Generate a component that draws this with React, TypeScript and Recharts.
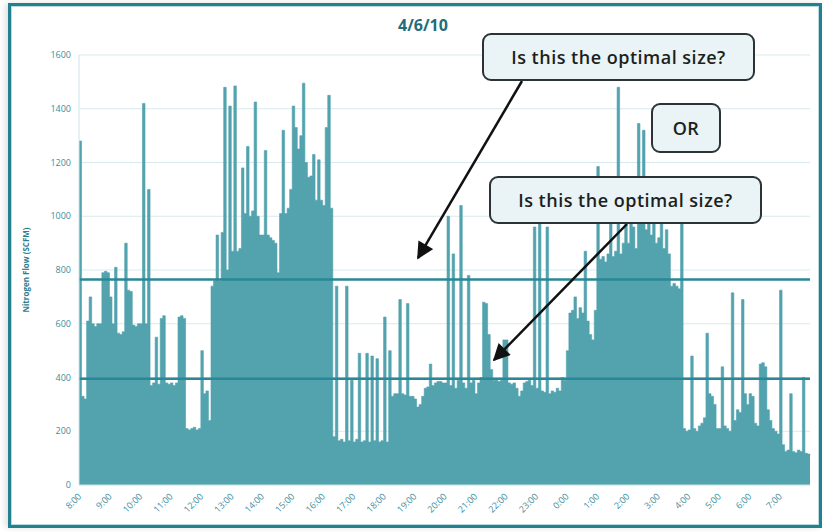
import React from 'react';
import {
  Area,
  AreaChart,
  CartesianGrid,
  ReferenceLine,
  XAxis,
  YAxis,
} from 'recharts';

// 5-minute samples of nitrogen flow (SCFM), one list per hour, starting at 8:00
const FLOW_08 = [1280, 330, 320, 610, 700, 600, 590, 600, 600, 790, 795, 790];
const FLOW_09 = [700, 600, 810, 565, 560, 570, 900, 725, 720, 595, 590, 600];
const FLOW_10 = [600, 1420, 600, 1100, 370, 380, 550, 375, 620, 630, 380, 375];
const FLOW_11 = [380, 370, 380, 625, 630, 620, 210, 205, 210, 215, 205, 210];
const FLOW_12 = [500, 340, 350, 240, 740, 760, 930, 760, 940, 1480, 800, 1410];
const FLOW_13 = [870, 1485, 870, 880, 1180, 1010, 1260, 1000, 1020, 1425, 1000, 930];
const FLOW_14 = [930, 1245, 930, 920, 910, 900, 790, 1010, 1320, 1010, 1030, 1100];
const FLOW_15 = [1410, 1330, 1250, 1300, 1495, 1200, 1145, 1150, 1230, 1060, 1210, 1060];
const FLOW_16 = [1040, 1330, 1450, 1030, 180, 740, 165, 170, 160, 740, 165, 390];
const FLOW_17 = [160, 170, 490, 160, 165, 490, 160, 480, 165, 470, 160, 165];
const FLOW_18 = [625, 160, 500, 330, 340, 340, 690, 340, 335, 675, 330, 330];
const FLOW_19 = [320, 290, 300, 330, 360, 365, 450, 370, 380, 385, 385, 380];
const FLOW_20 = [380, 1000, 370, 860, 360, 390, 1040, 380, 360, 780, 380, 390];
const FLOW_21 = [340, 380, 400, 680, 675, 560, 430, 390, 395, 385, 390, 540];
const FLOW_22 = [540, 380, 375, 380, 360, 330, 350, 380, 385, 390, 370, 960];
const FLOW_23 = [360, 975, 350, 345, 960, 340, 350, 345, 360, 350, 400, 390];
const FLOW_00 = [500, 640, 650, 700, 620, 660, 640, 870, 610, 560, 540, 650];
const FLOW_01 = [1185, 840, 850, 830, 860, 1000, 850, 870, 1480, 860, 900, 980];
const FLOW_02 = [900, 1000, 960, 880, 1345, 1000, 1320, 950, 1000, 930, 980, 900];
const FLOW_03 = [920, 1000, 880, 950, 860, 740, 750, 740, 730, 975, 210, 200];
const FLOW_04 = [205, 480, 210, 200, 220, 230, 250, 565, 340, 330, 300, 210];
const FLOW_05 = [210, 440, 220, 210, 200, 715, 240, 280, 270, 690, 340, 300];
const FLOW_06 = [340, 330, 230, 220, 450, 455, 440, 280, 240, 210, 200, 190];
const FLOW_07 = [725, 150, 125, 130, 340, 125, 120, 130, 125, 400, 118, 115];
const FLOW_CLOSE = [110];

const HOUR_LABELS = [
  '8:00', '9:00', '10:00', '11:00', '12:00', '13:00', '14:00', '15:00',
  '16:00', '17:00', '18:00', '19:00', '20:00', '21:00', '22:00', '23:00',
  '0:00', '1:00', '2:00', '3:00', '4:00', '5:00', '6:00', '7:00',
];
const Y_TICKS = [0, 200, 400, 600, 800, 1000, 1200, 1400, 1600];
const SIZE_LEVELS = [765, 395];

const SAMPLE_MINUTES = 5;

const flowSeries = [
  FLOW_08, FLOW_09, FLOW_10, FLOW_11, FLOW_12, FLOW_13, FLOW_14, FLOW_15,
  FLOW_16, FLOW_17, FLOW_18, FLOW_19, FLOW_20, FLOW_21, FLOW_22, FLOW_23,
  FLOW_00, FLOW_01, FLOW_02, FLOW_03, FLOW_04, FLOW_05, FLOW_06, FLOW_07,
  FLOW_CLOSE,
].flat();

const chartData = flowSeries.map((flow, i) => ({ t: i * SAMPLE_MINUTES, flow }));

const TEAL = '#52a3ae';
const TEAL_DARK = '#2a8795';
const TICK_COLOR = '#3d8e9d';

function RotatedTick(props: any) {
  const { x, y, payload } = props;
  return (
    <text
      x={x + 3}
      y={y + 4}
      transform={`rotate(-45, ${x + 3}, ${y + 4})`}
      textAnchor='end'
      fontSize={9}
      fill={TICK_COLOR}
      fontFamily='Open Sans, sans-serif'>
      {HOUR_LABELS[Math.round(payload.value / 60)]}
    </text>
  );
}

const calloutStyle: React.CSSProperties = {
  position: 'absolute',
  boxSizing: 'border-box',
  background: '#eaf3f5',
  border: '2px solid #2b3336',
  borderRadius: 9,
  display: 'flex',
  alignItems: 'center',
  justifyContent: 'center',
  fontFamily: 'Open Sans, sans-serif',
  fontWeight: 600,
  fontSize: 18,
  letterSpacing: 0.5,
  color: '#1c1f21',
};

export default function App() {
  return (
    <div style={{ position: 'relative', width: 825, height: 532, background: '#fff' }}>
      <style>{'body{margin:0}'}</style>
      {/* cadre */}
      <div
        style={{
          position: 'absolute',
          left: 8,
          top: 3,
          width: 814,
          height: 525,
          boxSizing: 'border-box',
          border: '3px solid #23808e',
          boxShadow: 'inset 0 0 0 1px #b9d9de, -3px 0 6px rgba(0,0,0,0.12)',
        }}
      />
      <div
        style={{
          position: 'absolute',
          left: 0,
          top: 14,
          width: 846,
          textAlign: 'center',
          fontFamily: 'Open Sans, sans-serif',
          fontWeight: 700,
          fontSize: 16,
          color: '#1f6c7b',
        }}>
        4/6/10
      </div>
      <div style={{ position: 'absolute', left: 0, top: 0 }}>
        <AreaChart
          width={825}
          height={532}
          data={chartData}
          margin={{ top: 55, right: 15, left: 0, bottom: 7 }}>
          <CartesianGrid vertical={false} stroke='#d8eaed' />
          <XAxis
            dataKey='t'
            type='number'
            domain={[0, 1440]}
            ticks={HOUR_LABELS.map((_, i) => i * 60)}
            interval={0}
            height={40}
            tick={<RotatedTick />}
            tickLine={false}
            axisLine={{ stroke: '#cfe4e8' }}
          />
          <YAxis
            width={79}
            domain={[0, 1600]}
            ticks={Y_TICKS}
            interval={0}
            tickLine={false}
            axisLine={{ stroke: '#cfe4e8' }}
            tick={{ fontSize: 9, fill: TICK_COLOR, fontFamily: 'Open Sans, sans-serif' }}
            label={{
              value: 'Nitrogen Flow (SCFM)',
              angle: -90,
              position: 'insideLeft',
              offset: 26,
              style: {
                fontSize: 8,
                fontWeight: 700,
                fill: '#2d7f90',
                fontFamily: 'Open Sans, sans-serif',
                textAnchor: 'middle',
              },
            }}
          />
          <Area
            type='stepAfter'
            dataKey='flow'
            stroke={TEAL}
            strokeWidth={0.6}
            fill={TEAL}
            fillOpacity={1}
            isAnimationActive={false}
          />
          {SIZE_LEVELS.map((level) => (
            <ReferenceLine key={level} y={level} stroke={TEAL_DARK} strokeWidth={2.5} />
          ))}
        </AreaChart>
      </div>
      {/* flèches */}
      <svg
        width={825}
        height={532}
        style={{ position: 'absolute', left: 0, top: 0, pointerEvents: 'none' }}>
        <defs>
          <marker
            id='head'
            viewBox='0 0 10 10'
            refX='9'
            refY='5'
            markerUnits='userSpaceOnUse'
            markerWidth='20'
            markerHeight='17'
            orient='auto'>
            <path d='M0,0 L10,5 L0,10 z' fill='#111' />
          </marker>
        </defs>
        <line x1={522} y1={81} x2={418} y2={258} stroke='#111' strokeWidth={2.5} markerEnd='url(#head)' />
        <line x1={627} y1={224} x2={494} y2={360} stroke='#111' strokeWidth={2.5} markerEnd='url(#head)' />
      </svg>
      <div style={{ ...calloutStyle, left: 482, top: 33, width: 273, height: 48 }}>
        Is this the optimal size?
      </div>
      <div style={{ ...calloutStyle, left: 651, top: 103, width: 70, height: 50 }}>OR</div>
      <div style={{ ...calloutStyle, left: 489, top: 176, width: 273, height: 48 }}>
        Is this the optimal size?
      </div>
    </div>
  );
}
